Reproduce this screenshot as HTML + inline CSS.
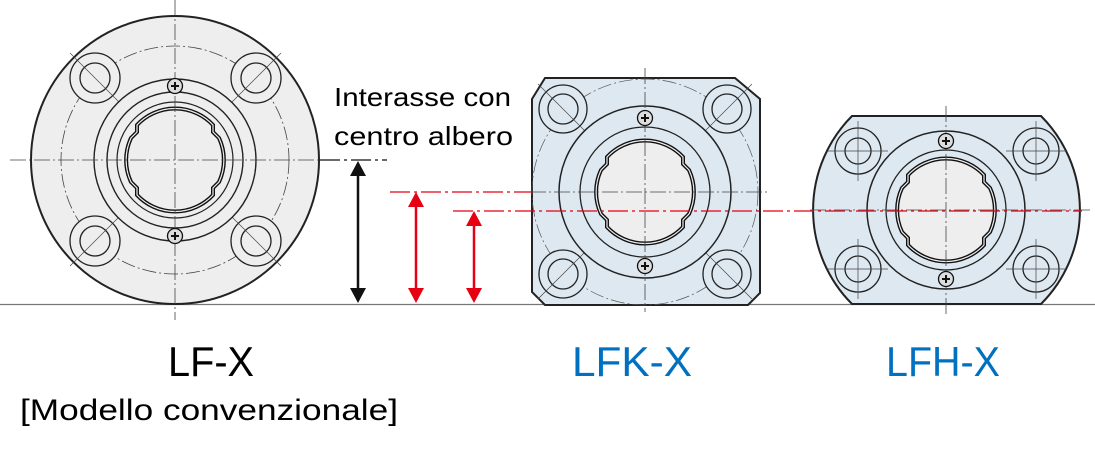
<!DOCTYPE html>
<html><head><meta charset="utf-8"><style>
body{margin:0;background:#fff;width:1095px;height:456px;overflow:hidden}
svg{position:absolute;left:0;top:0}
text{font-family:"Liberation Sans","DejaVu Sans",sans-serif}
</style></head><body>
<svg width="1095" height="456" viewBox="0 0 1095 456">
<defs>
<g id="brg">
 <path d="M-38,-35 A52,52 0 0 1 38,-35 L38,-28 L44,-22 A52,52 0 0 1 44,22 L38,28 L38,35 A52,52 0 0 1 -38,35 L-38,28 L-44,22 A52,52 0 0 1 -44,-22 L-38,-28 Z" fill="#eeeeee" stroke="#111" stroke-width="4"/>
 <path d="M-38,-35 A52,52 0 0 1 38,-35 L38,-28 L44,-22 A52,52 0 0 1 44,22 L38,28 L38,35 A52,52 0 0 1 -38,35 L-38,28 L-44,22 A52,52 0 0 1 -44,-22 L-38,-28 Z" fill="none" stroke="#eeeeee" stroke-width="1.2"/>
</g>
<g id="scr"><circle r="7.5" fill="#ddd" stroke="#111" stroke-width="1.3"/><path d="M-4,0H4M0,-4V4" stroke="#111" stroke-width="2"/></g>
</defs>
<line x1="0" y1="304.5" x2="1095" y2="304.5" stroke="#777" stroke-width="1.2"/>

<g>
<circle cx="175" cy="160" r="144" fill="#eeeeee" stroke="#222" stroke-width="2"/>
<circle cx="175" cy="160" r="114" fill="none" stroke="#444" stroke-width="0.8" stroke-dasharray="14,3,2,3"/>
<g fill="#eeeeee" stroke="#222" stroke-width="1.3">
<circle cx="95" cy="78" r="25"/><circle cx="95" cy="78" r="15"/>
<circle cx="256" cy="78" r="25"/><circle cx="256" cy="78" r="15"/>
<circle cx="95" cy="241" r="25"/><circle cx="95" cy="241" r="15"/>
<circle cx="256" cy="241" r="25"/><circle cx="256" cy="241" r="15"/>
</g>
<path d="M70,53L120,103M281,53L231,103M70,266L120,216M281,266L231,216" stroke="#444" stroke-width="0.7"/>
<circle cx="175" cy="160" r="81" fill="#eeeeee" stroke="#222" stroke-width="1.4"/>
<circle cx="175" cy="160" r="68" fill="#eeeeee" stroke="#222" stroke-width="1.4"/>
<circle cx="175" cy="160" r="58" fill="#eeeeee" stroke="#222" stroke-width="1.2"/>
<use href="#brg" x="175" y="160"/>
<line x1="175" y1="0" x2="175" y2="320" stroke="#444" stroke-width="0.8" stroke-dasharray="16,3,2,3"/>
<line x1="10" y1="160" x2="320" y2="160" stroke="#444" stroke-width="0.8" stroke-dasharray="16,3,2,3"/>
<use href="#scr" x="175" y="86"/><use href="#scr" x="175" y="236"/>
</g>

<g>
<path d="M545,78H735L760,99V293L748,305H545L532,292V99Z" fill="#dde8f0" stroke="#222" stroke-width="2"/>
<circle cx="645" cy="192" r="113" fill="none" stroke="#555" stroke-width="0.7" stroke-dasharray="14,3,2,3"/>
<g fill="#dde8f0" stroke="#222" stroke-width="1.3">
<circle cx="563" cy="109" r="24"/><circle cx="563" cy="109" r="15"/>
<circle cx="727" cy="109" r="24"/><circle cx="727" cy="109" r="15"/>
<circle cx="563" cy="274" r="24"/><circle cx="563" cy="274" r="15"/>
<circle cx="727" cy="274" r="24"/><circle cx="727" cy="274" r="15"/>
</g>
<path d="M538,84L588,134M752,84L702,134M538,299L588,249M752,299L702,249" stroke="#444" stroke-width="0.7"/>
<circle cx="645" cy="192" r="86" fill="#dde8f0" stroke="#222" stroke-width="1.5"/>
<circle cx="645" cy="192" r="65" fill="#dde8f0" stroke="#222" stroke-width="1.3"/>
<use href="#brg" x="645" y="192"/>
<line x1="645" y1="68" x2="645" y2="312" stroke="#444" stroke-width="0.8" stroke-dasharray="16,3,2,3"/>
<line x1="530" y1="192" x2="770" y2="192" stroke="#444" stroke-width="0.8" stroke-dasharray="16,3,2,3"/>
<use href="#scr" x="645" y="118"/><use href="#scr" x="645" y="266"/>
</g>

<g>
<path d="M852,116H1041A133,133 0 0 1 1041,304H852A133,133 0 0 1 852,116Z" fill="#dde8f0" stroke="#222" stroke-width="2"/>
<g fill="#dde8f0" stroke="#222" stroke-width="1.3">
<circle cx="858" cy="151" r="23"/><circle cx="858" cy="151" r="13"/>
<circle cx="1036" cy="151" r="23"/><circle cx="1036" cy="151" r="13"/>
<circle cx="858" cy="269" r="23"/><circle cx="858" cy="269" r="13"/>
<circle cx="1036" cy="269" r="23"/><circle cx="1036" cy="269" r="13"/>
</g>
<path d="M828,151H888M858,121V181M1006,151H1066M1036,121V181M828,269H888M858,239V299M1006,269H1066M1036,239V299" stroke="#444" stroke-width="0.7"/>
<circle cx="946" cy="210" r="79" fill="#dde8f0" stroke="#222" stroke-width="1.5"/>
<circle cx="946" cy="210" r="60" fill="#dde8f0" stroke="#222" stroke-width="1.3"/>
<use href="#brg" x="946" y="210"/>
<line x1="946" y1="106" x2="946" y2="316" stroke="#444" stroke-width="0.8" stroke-dasharray="16,3,2,3"/>
<line x1="810" y1="210" x2="1090" y2="210" stroke="#444" stroke-width="0.8" stroke-dasharray="16,3,2,3"/>
<use href="#scr" x="946" y="141"/><use href="#scr" x="946" y="279"/>
</g>

<line x1="320" y1="160" x2="387" y2="160" stroke="#111" stroke-width="1.3" stroke-dasharray="20,4,3,4"/>
<line x1="390" y1="192" x2="532" y2="192" stroke="#e60012" stroke-width="1.3" stroke-dasharray="20,4,3,4"/>
<line x1="453" y1="211" x2="1082" y2="211" stroke="#e60012" stroke-width="1.3" stroke-dasharray="20,4,3,4"/>
<g stroke="#111" stroke-width="2.5" fill="#111">
<line x1="358" y1="172" x2="358" y2="292"/>
<path d="M358,161L350,176H366Z M358,303L350,288H366Z" stroke="none"/>
</g>
<g stroke="#e60012" stroke-width="2.5" fill="#e60012">
<line x1="416" y1="203" x2="416" y2="292"/>
<path d="M416,192L408,207H424Z M416,303L408,288H424Z" stroke="none"/>
<line x1="474" y1="222" x2="474" y2="292"/>
<path d="M474,211L466,226H482Z M474,303L466,288H482Z" stroke="none"/>
</g>

<text x="334" y="106" font-size="26" fill="#000" textLength="177" lengthAdjust="spacingAndGlyphs">Interasse con</text>
<text x="334" y="145" font-size="26" fill="#000" textLength="179" lengthAdjust="spacingAndGlyphs">centro albero</text>
<text x="168" y="376" font-size="42" fill="#000" textLength="86" lengthAdjust="spacingAndGlyphs">LF-X</text>
<text x="20" y="420" font-size="30" fill="#000" textLength="378" lengthAdjust="spacingAndGlyphs">[Modello convenzionale]</text>
<text x="572" y="376" font-size="42" fill="#0070c0" textLength="120" lengthAdjust="spacingAndGlyphs">LFK-X</text>
<text x="886" y="376" font-size="42" fill="#0070c0" textLength="114" lengthAdjust="spacingAndGlyphs">LFH-X</text>
</svg>
</body></html>
